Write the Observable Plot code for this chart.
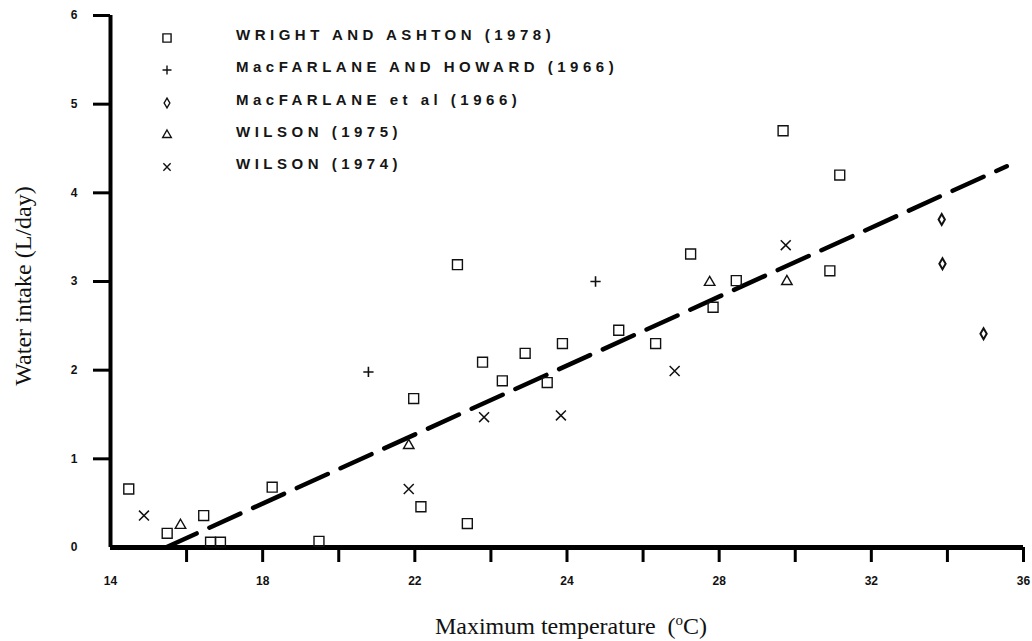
<!DOCTYPE html>
<html><head><meta charset="utf-8">
<script src="https://cdn.jsdelivr.net/npm/d3@7"></script>
<script src="https://cdn.jsdelivr.net/npm/@observablehq/plot@0.6"></script>
<style>
html,body{margin:0;padding:0;background:#fff;}
#wrap{position:relative;width:1032px;height:641px;overflow:hidden;background:#fff;}
#chart{position:absolute;left:0;top:0;}
.lrow{position:absolute;font-family:"Liberation Sans",Arial,sans-serif;font-weight:bold;font-size:15px;letter-spacing:4.5px;color:#151515;white-space:nowrap;line-height:15px;}
.lsym{position:absolute;}
.xtitle{position:absolute;font-family:"Liberation Serif","Times New Roman",serif;font-size:24px;line-height:24px;color:#111;white-space:nowrap;transform:translateX(-50%);}
.xtitle sup{font-size:15px;vertical-align:9px;line-height:0;}
.ytitle{position:absolute;font-family:"Liberation Serif","Times New Roman",serif;font-size:24px;line-height:24px;color:#111;white-space:nowrap;transform:translate(-50%,-50%) rotate(-90deg);}
</style></head>
<body><div id="wrap"><div id="chart"></div></div>
<script>
// ---- data ----
const xTickLabels = [14, 18, 22, 24, 28, 32, 36];
const yTicks = [0, 1, 2, 3, 4, 5, 6];
const seriesNames = ["WRIGHT AND ASHTON (1978)", "MacFARLANE AND HOWARD (1966)", "MacFARLANE et al (1966)", "WILSON (1975)", "WILSON (1974)"];

const wrightX = [14.48, 15.49, 16.45, 16.63, 16.89, 18.25, 19.48, 21.97, 22.08, 22.69, 22.56, 22.89, 23.15, 23.45, 23.74, 23.94, 25.36, 26.33, 27.25, 27.84, 28.45, 29.68, 31.17, 30.91];
const wrightY = [0.66, 0.16, 0.36, 0.06, 0.06, 0.68, 0.07, 1.68, 0.46, 0.27, 3.19, 2.09, 1.88, 2.19, 1.86, 2.30, 2.45, 2.30, 3.31, 2.71, 3.01, 4.70, 4.20, 3.12];
const howardX = [20.78, 24.75];
const howardY = [1.98, 3.00];
const etalX = [33.85, 33.87, 34.95];
const etalY = [3.70, 3.20, 2.41];
const wilson75X = [15.84, 21.84, 27.75, 29.78];
const wilson75Y = [0.25, 1.15, 2.99, 3.00];
const wilson74X = [14.88, 21.84, 22.91, 23.92, 26.83, 29.75];
const wilson74Y = [0.36, 0.66, 1.47, 1.49, 1.99, 3.41];
const fitX = [15.45, 35.56];
const fitY = [0.0, 4.30];

// ---- layout ----
const W = 1032, H = 605, mL = 110, mR = 9, mT = 15, mB = 58;
const n = xTickLabels.length;
// the printed axis labels are evenly spaced but not evenly valued:
// map each temperature to its position along the printed axis (tick index units)
const pos = d3.scaleLinear().domain(xTickLabels).range(d3.range(n).map(i => 2 * i));
const nTicks = 2 * (n - 1);

const rows = (xs, ys) => xs.map((x, i) => ({x, y: ys[i]}));
const symbols = ["square", "plus", "diamond", "triangle", "times"];
const radii = [5.6, 3.4, 3.3, 3.9, 4.6];
const widths = [1.4, 1.6, 2, 1.4, 1.5];
const series = [
  rows(wrightX, wrightY), rows(howardX, howardY), rows(etalX, etalY),
  rows(wilson75X, wilson75Y), rows(wilson74X, wilson74Y)
];
const px = d => pos(d.x);

const chart = Plot.plot({
  width: W, height: H, marginLeft: mL, marginRight: mR, marginTop: mT, marginBottom: mB,
  style: {background: "white", color: "black", fontFamily: "Liberation Sans, Arial, sans-serif", fontSize: "12px", overflow: "visible"},
  x: {type: "linear", domain: [0, nTicks], label: null},
  y: {domain: [yTicks[0], yTicks[yTicks.length - 1]], label: null},
  marks: [
    Plot.axisX({ticks: d3.range(1, nTicks + 1), tickSize: 15, strokeWidth: 3, tickFormat: () => "", label: null}),
    Plot.axisX({ticks: d3.range(0, nTicks + 1, 2), tickSize: 0, tickPadding: 29, fontWeight: "bold", fill: "#111", tickFormat: i => String(xTickLabels[i / 2]), label: null}),
    Plot.axisY({ticks: yTicks.slice(1), tickSize: 17, strokeWidth: 3, tickFormat: () => "", label: null}),
    Plot.axisY({ticks: yTicks, tickSize: 0, tickPadding: 33, fontWeight: "bold", fill: "#111", tickFormat: d3.format("d"), label: null}),
    Plot.ruleX([0], {stroke: "black", strokeWidth: 4}),
    Plot.ruleY([0], {stroke: "black", strokeWidth: 5}),
    Plot.line(rows(fitX, fitY), {x: px, y: "y", stroke: "black", strokeWidth: 4.5, strokeDasharray: "34,14"}),
    ...series.map((data, i) => Plot.dot(data, {x: px, y: "y", symbol: symbols[i], r: radii[i], stroke: "#111", strokeWidth: widths[i], fill: "none"}))
  ]
});
document.getElementById("chart").appendChild(chart);

// ---- legend (inside plot area) ----
const wrap = document.getElementById("wrap");
const symTypes = {square: d3.symbolSquare, plus: d3.symbolPlus, diamond: d3.symbolDiamond, triangle: d3.symbolTriangle, times: d3.symbolTimes};
const legR = [4.6, 3.0, 3.0, 3.2, 3.4];
seriesNames.forEach((name, i) => {
  const cy = 38 + i * 32.3;
  const s = d3.create("svg").attr("class", "lsym").attr("width", 20).attr("height", 20)
    .style("left", (167 - 10) + "px").style("top", (cy - 10) + "px");
  s.append("path").attr("transform", "translate(10,10)")
    .attr("d", d3.symbol(symTypes[symbols[i]], Math.PI * legR[i] * legR[i])())
    .attr("fill", "none").attr("stroke", "#111").attr("stroke-width", 1.4);
  wrap.appendChild(s.node());
  const t = document.createElement("div");
  t.className = "lrow";
  t.textContent = name;
  t.style.left = "236px";
  t.style.top = (cy - 11) + "px";
  wrap.appendChild(t);
});

// ---- axis titles ----
const xt = document.createElement("div");
xt.className = "xtitle";
xt.innerHTML = "Maximum temperature&nbsp; (<sup>o</sup>C)";
xt.style.left = "571px"; xt.style.top = "614px";
wrap.appendChild(xt);
const yt = document.createElement("div");
yt.className = "ytitle";
yt.textContent = "Water intake (L/day)";
yt.style.left = "23px"; yt.style.top = "286px";
wrap.appendChild(yt);
</script>
</body></html>
